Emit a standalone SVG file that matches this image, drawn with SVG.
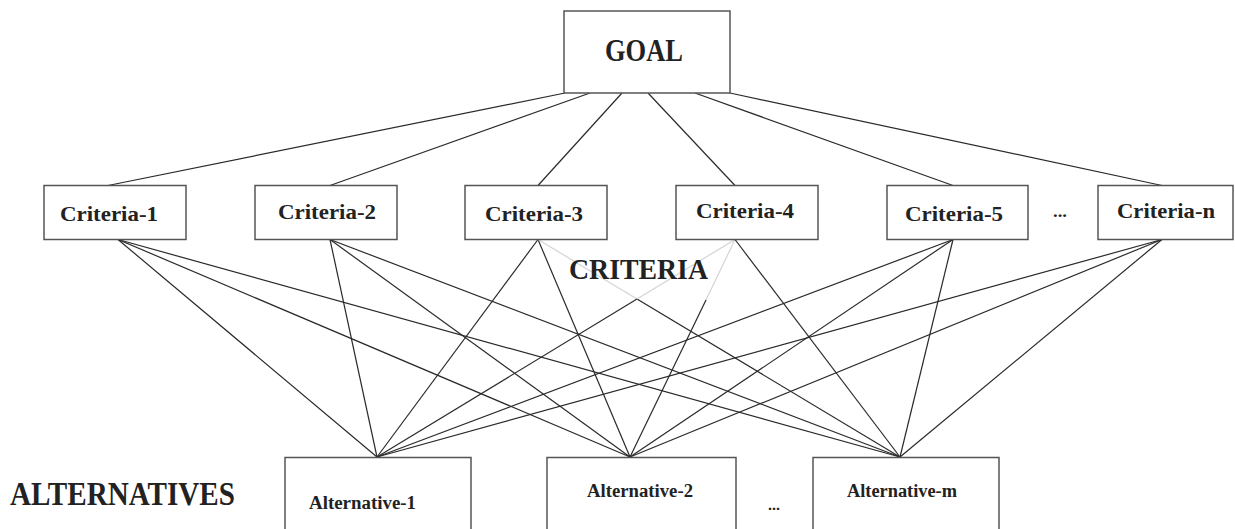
<svg xmlns="http://www.w3.org/2000/svg" width="1235" height="529" viewBox="0 0 1235 529">
<style>
.box{fill:#fff;stroke:#555;stroke-width:1.5}
.ln{stroke:#2a2a2a;stroke-width:1.2;fill:none}
.lg{stroke:#d4d4d4;stroke-width:1.2;fill:none}
.t{font-family:"Liberation Serif",serif;font-weight:bold;fill:#222}
</style>
<rect width="1235" height="529" fill="#fff"/>
<g id="connectors">
<line class="ln" x1="565" y1="93" x2="108" y2="185.5"/>
<line class="ln" x1="590" y1="93" x2="330" y2="185.5"/>
<line class="ln" x1="622" y1="93" x2="538" y2="185.5"/>
<line class="ln" x1="648" y1="93" x2="735" y2="185.5"/>
<line class="ln" x1="695" y1="93" x2="953" y2="185.5"/>
<line class="ln" x1="730" y1="93" x2="1162" y2="185.5"/>
<line class="ln" x1="118" y1="239.5" x2="377" y2="457"/>
<line class="ln" x1="118" y1="239.5" x2="630" y2="457"/>
<line class="ln" x1="118" y1="239.5" x2="900" y2="457"/>
<line class="ln" x1="330" y1="239.5" x2="377" y2="457"/>
<line class="ln" x1="330" y1="239.5" x2="630" y2="457"/>
<line class="ln" x1="330" y1="239.5" x2="900" y2="457"/>
<line class="ln" x1="538" y1="239.5" x2="377" y2="457"/>
<line class="ln" x1="538" y1="239.5" x2="630" y2="457"/>
<line class="lg" x1="538" y1="239.5" x2="637" y2="299"/>
<line class="ln" x1="637" y1="299" x2="900" y2="457"/>
<line class="lg" x1="735" y1="239.5" x2="637" y2="299"/>
<line class="ln" x1="637" y1="299" x2="377" y2="457"/>
<line class="lg" x1="735" y1="239.5" x2="706" y2="300"/>
<line class="ln" x1="706" y1="300" x2="630" y2="457"/>
<line class="ln" x1="735" y1="239.5" x2="900" y2="457"/>
<line class="ln" x1="953" y1="239.5" x2="377" y2="457"/>
<line class="ln" x1="953" y1="239.5" x2="630" y2="457"/>
<line class="ln" x1="953" y1="239.5" x2="900" y2="457"/>
<line class="ln" x1="1162" y1="239.5" x2="377" y2="457"/>
<line class="ln" x1="1162" y1="239.5" x2="630" y2="457"/>
<line class="ln" x1="1162" y1="239.5" x2="900" y2="457"/>
</g>
<g id="goal">
<rect class="box" x="564" y="11" width="166" height="82"/>
<text class="t" x="605" y="61" font-size="31" textLength="78" lengthAdjust="spacingAndGlyphs">GOAL</text>
</g>
<g id="criteria-1">
<rect class="box" x="44" y="185.5" width="142" height="54"/>
<text class="t" x="60" y="221" font-size="22" textLength="98" lengthAdjust="spacingAndGlyphs">Criteria-1</text>
</g>
<g id="criteria-2">
<rect class="box" x="255" y="185.5" width="142" height="54"/>
<text class="t" x="278" y="219" font-size="22" textLength="98" lengthAdjust="spacingAndGlyphs">Criteria-2</text>
</g>
<g id="criteria-3">
<rect class="box" x="465" y="185.5" width="142" height="54"/>
<text class="t" x="485" y="221" font-size="22" textLength="98" lengthAdjust="spacingAndGlyphs">Criteria-3</text>
</g>
<g id="criteria-4">
<rect class="box" x="676" y="185.5" width="142" height="54"/>
<text class="t" x="696" y="218" font-size="22" textLength="98" lengthAdjust="spacingAndGlyphs">Criteria-4</text>
</g>
<g id="criteria-5">
<rect class="box" x="887" y="185.5" width="141" height="54"/>
<text class="t" x="905" y="221" font-size="22" textLength="98" lengthAdjust="spacingAndGlyphs">Criteria-5</text>
</g>
<g id="criteria-dots">
<text class="t" x="1053" y="217" font-size="16" textLength="14" lengthAdjust="spacingAndGlyphs">...</text>
</g>
<g id="criteria-n">
<rect class="box" x="1098" y="185.5" width="135" height="54"/>
<text class="t" x="1117" y="218" font-size="22" textLength="98" lengthAdjust="spacingAndGlyphs">Criteria-n</text>
</g>
<g id="criteria-label">
<text class="t" x="569" y="279" font-size="30" textLength="139" lengthAdjust="spacingAndGlyphs">CRITERIA</text>
</g>
<g id="alternatives-label">
<text class="t" x="10" y="505" font-size="34" textLength="225" lengthAdjust="spacingAndGlyphs">ALTERNATIVES</text>
</g>
<g id="alternative-1">
<rect class="box" x="285" y="457.5" width="186" height="90"/>
<text class="t" x="309" y="509" font-size="18" textLength="107" lengthAdjust="spacingAndGlyphs">Alternative-1</text>
</g>
<g id="alternative-2">
<rect class="box" x="547" y="457.5" width="189" height="90"/>
<text class="t" x="587" y="497" font-size="18" textLength="106" lengthAdjust="spacingAndGlyphs">Alternative-2</text>
</g>
<g id="alternative-dots">
<text class="t" x="768" y="510" font-size="14" textLength="12" lengthAdjust="spacingAndGlyphs">...</text>
</g>
<g id="alternative-m">
<rect class="box" x="813" y="457.5" width="186" height="90"/>
<text class="t" x="847" y="497" font-size="18" textLength="110" lengthAdjust="spacingAndGlyphs">Alternative-m</text>
</g>
</svg>
